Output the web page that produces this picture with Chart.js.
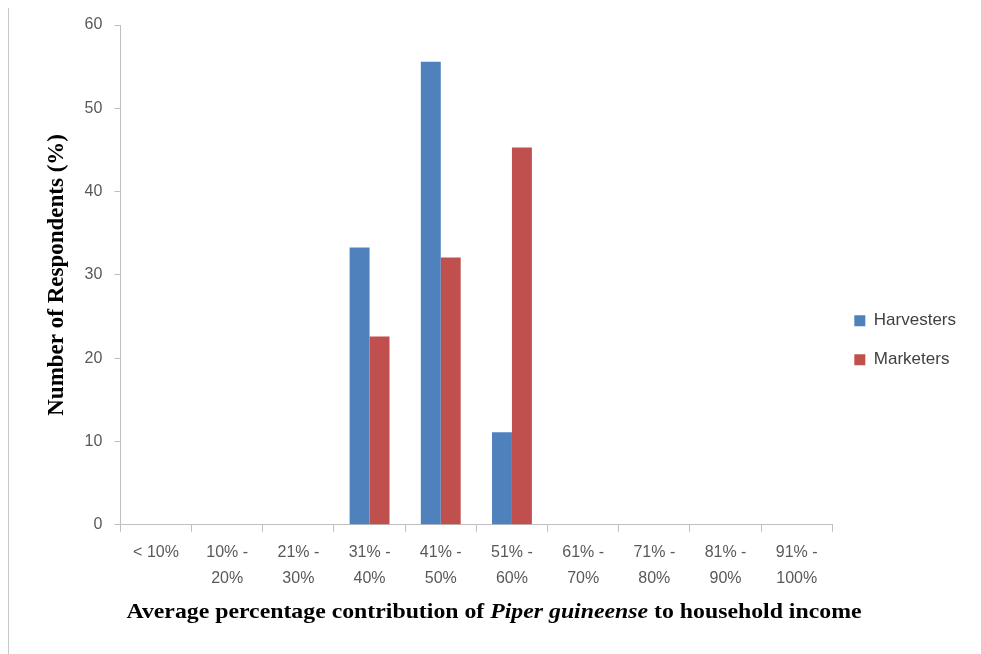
<!DOCTYPE html>
<html>
<head>
<meta charset="utf-8">
<script src="https://cdn.jsdelivr.net/npm/chart.js@4.4.1/dist/chart.umd.min.js"></script>
<style>
  body { margin: 0; background: #fff; }
  #wrap { position: relative; width: 981px; height: 654px; }
  #frame { position: absolute; left: 8px; top: 8px; bottom: 0; border-left: 1px solid #c8c8c8; }
</style>
</head>
<body>
<div id="wrap">
  <div id="frame"></div>
  <canvas id="incomeChart" width="981" height="654"></canvas>
</div>
<script>
// income share classes on the x axis (two-line labels)
let categories = [
  '< 10%', ['10% -', '20%'], ['21% -', '30%'], ['31% -', '40%'], ['41% -', '50%'],
  ['51% -', '60%'], ['61% -', '70%'], ['71% -', '80%'], ['81% -', '90%'], ['91% -', '100%']
];
// percentage of respondents in each class
let harvesters = [0, 0, 0, 33.3, 55.6, 11.1, 0, 0, 0, 0];
let marketers = [0, 0, 0, 22.6, 32.1, 45.3, 0, 0, 0, 0];
let yTicks = [0, 10, 20, 30, 40, 50, 60];

// x axis title has an italic species name, so draw it by hand
let xTitlePlugin = {
  id: 'xTitle',
  afterDraw: (chart) => {
    let ctx = chart.ctx;
    let parts = [
      { text: 'Average percentage contribution of ', font: 'bold 21px "Liberation Serif"' },
      { text: 'Piper guineense', font: 'italic bold 21px "Liberation Serif"' },
      { text: ' to household income', font: 'bold 21px "Liberation Serif"' }
    ];
    ctx.save();
    let total = 0;
    parts.forEach(p => { ctx.font = p.font; total += ctx.measureText(p.text).width; });
    // the original title is a little wider than the font, stretch to fit
    let sx = 735 / total;
    ctx.translate(494 - 735 / 2, 618);
    ctx.scale(sx, 1);
    ctx.fillStyle = '#000';
    ctx.textBaseline = 'alphabetic';
    let x = 0;
    parts.forEach(p => {
      ctx.font = p.font;
      ctx.fillText(p.text, x, 0);
      x += ctx.measureText(p.text).width;
    });
    ctx.restore();
  }
};

let ctx = document.getElementById('incomeChart').getContext('2d');
let incomeChart = new Chart(ctx, {
  type: 'bar',
  data: {
    labels: categories,
    datasets: [
      { label: 'Harvesters', data: harvesters, backgroundColor: '#4f81bd' },
      { label: 'Marketers', data: marketers, backgroundColor: '#c0504d' }
    ]
  },
  options: {
    responsive: false,
    animation: false,
    datasets: { bar: { categoryPercentage: 0.56, barPercentage: 1.0 } },
    layout: { padding: { top: 25, right: 15, bottom: 55, left: 39 } },
    plugins: {
      legend: {
        position: 'right',
        title: { display: true, text: '', font: { size: 12 }, padding: { top: 0, bottom: 42 } },
        labels: {
          boxWidth: 11, boxHeight: 11, padding: 22,
          color: '#404040',
          font: { family: 'Liberation Sans', size: 17 }
        }
      },
      tooltip: { enabled: false }
    },
    scales: {
      x: {
        grid: { drawOnChartArea: false, color: '#bfbfbf', tickLength: 7 },
        border: { color: '#bfbfbf' },
        ticks: {
          color: '#595959', padding: 8,
          font: { family: 'Liberation Sans', size: 16, lineHeight: 1.6 },
          maxRotation: 0, autoSkip: false
        }
      },
      y: {
        min: 0, max: 60,
        afterBuildTicks: (axis) => { axis.ticks = yTicks.map(v => ({ value: v })); },
        grid: { drawOnChartArea: false, color: '#bfbfbf', tickLength: 6 },
        border: { color: '#bfbfbf' },
        ticks: { color: '#595959', font: { family: 'Liberation Sans', size: 16 }, padding: 12 },
        title: {
          display: true,
          text: 'Number of Respondents (%)',
          color: '#000',
          font: { family: 'Liberation Serif', size: 23, weight: 'bold' },
          padding: { top: 4, bottom: 2 }
        }
      }
    }
  },
  plugins: [xTitlePlugin]
});
</script>
</body>
</html>
